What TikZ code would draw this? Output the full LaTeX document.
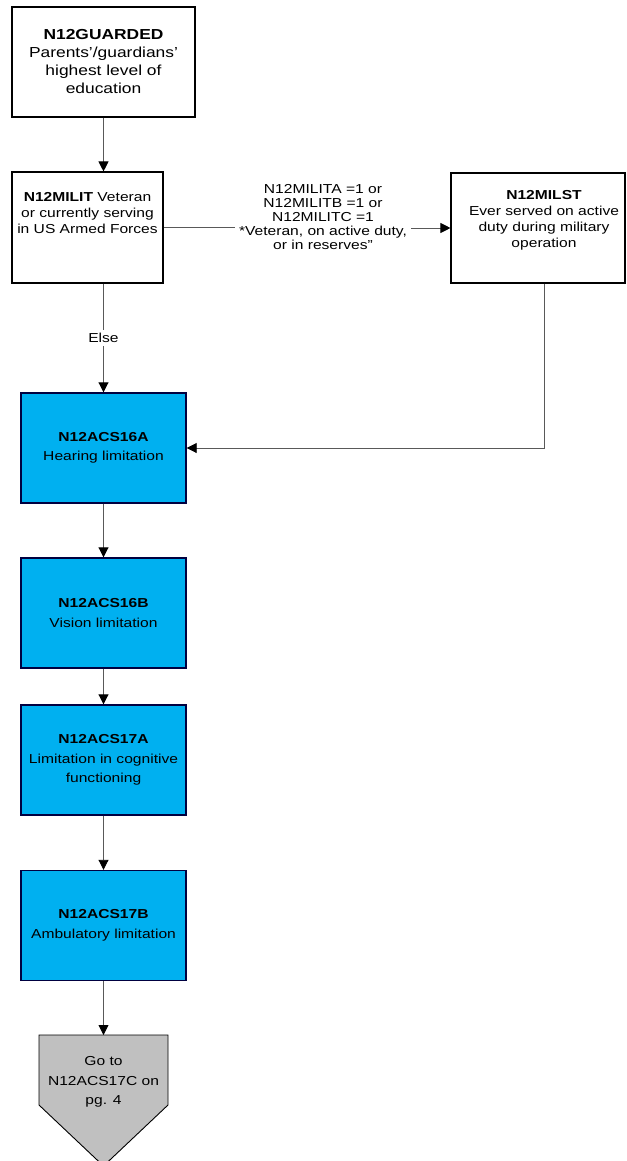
\documentclass[tikz,border=0pt]{standalone}
\usepackage{fontspec}
\setmainfont{Liberation Sans}[FakeStretch=1.2]
\usetikzlibrary{arrows.meta}
\definecolor{acsblue}{RGB}{0,176,240}
\definecolor{gotogray}{RGB}{192,192,192}

\begin{document}
\begin{tikzpicture}[x=1pt,y=-1pt,>={Triangle[length=10pt,width=10pt,color=black]},
  txt/.style={align=center,font=\fontsize{13}{16}\selectfont},
  qbox/.style={draw=black,line width=1.1pt,inner sep=0pt},
  acsbox/.style={qbox,txt,fill=acsblue,draw=black!75!blue,line width=1.4pt,
    minimum width=165,minimum height=110,font=\fontsize{13}{19.5}\selectfont},
  flow/.style={draw=black!65,line width=0.9pt}]
  \useasboundingbox (0,0) rectangle (626,1161);
  % question boxes
  \node[qbox,txt,minimum width=183,minimum height=110,font=\fontsize{14.5}{18}\selectfont] (guard) at (103.5,62) {\textbf{N12GUARDED}\\Parents'/guardians'\\highest level of\\education};
  \node[qbox,minimum width=151,minimum height=111] (milit) at (87.5,227.5) {};
  \node[txt] (militlbl) at (87.5,213) {\textbf{N12MILIT} Veteran\\or currently serving\\in US Armed Forces};
  \node[qbox,minimum width=174,minimum height=110] (milst) at (538,228) {};
  \node[txt] (milstlbl) at (544,220) {\textbf{N12MILST}\\Ever served on active\\duty during military\\operation};
  \node[txt,font=\fontsize{13}{14}\selectfont,minimum width=176] (cond) at (323,217) {N12MILITA =1 or\\N12MILITB =1 or\\N12MILITC =1\\*Veteran, on active duty,\\or in reserves''};
  % limitation boxes
  \node[acsbox] (acsa) at (103.5,448) {\textbf{N12ACS16A}\\Hearing limitation};
  \node[acsbox] (acsb) at (103.5,613) {\textbf{N12ACS16B}\\Vision limitation};
  \node[acsbox] (acsc) at (103.5,760) {\textbf{N12ACS17A}\\Limitation in cognitive\\functioning};
  \node[acsbox] (acsd) at (103.5,925.5) {\textbf{N12ACS17B}\\Ambulatory limitation};
  % off-page pointer
  \coordinate (gotop) at (103.5,1035);
  \draw[fill=gotogray,line width=0.9pt] (39,1035) -- (168,1035) -- (168,1105) -- (103.5,1166) -- (39,1105) -- cycle;
  \node[txt,font=\fontsize{13}{19.5}\selectfont] (goto) at (103.5,1082) {Go to\\N12ACS17C on\\pg. 4};
  % connectors
  \draw[flow,->] (guard.south) -- (guard.south |- milit.north);
  \draw[flow,->] (acsa.north |- milit.south) -- node[fill=white,txt] (else) {Else} (acsa.north);
  \draw[flow] (milit.east) -- (milit.east -| cond.west);
  \draw[flow,->] (cond.east |- milst.west) -- (milst.west);
  \draw[flow,->] (milst.south -| milstlbl) |- (acsa.east);
  \draw[flow,->] (acsa) -- (acsb);
  \draw[flow,->] (acsb) -- (acsc);
  \draw[flow,->] (acsc) -- (acsd);
  \draw[flow,->] (acsd) -- (gotop);
\end{tikzpicture}
\end{document}
